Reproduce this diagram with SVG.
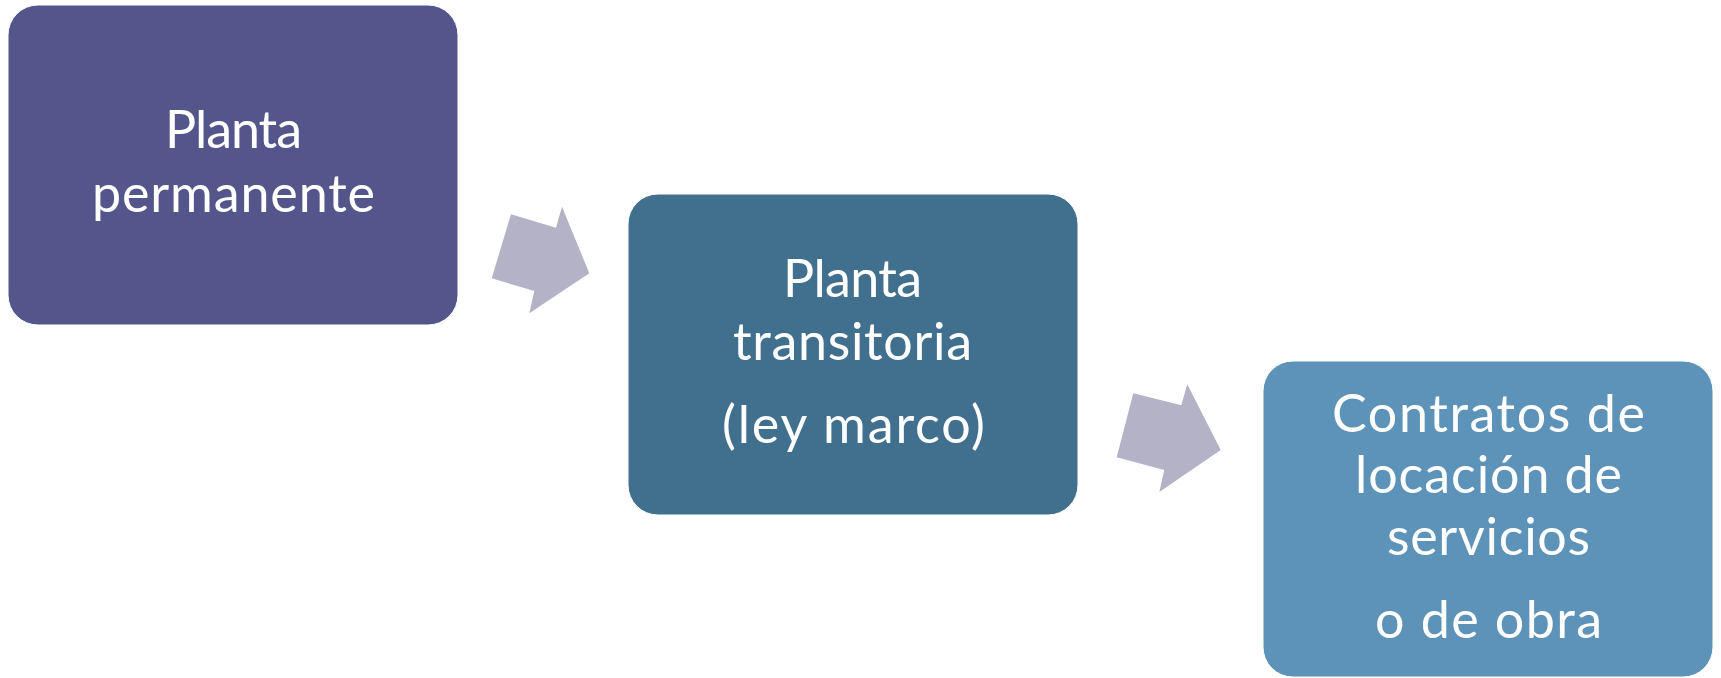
<svg xmlns="http://www.w3.org/2000/svg" width="1721" height="678" viewBox="0 0 1721 678">
<style>
.box{stroke:#ffffff;stroke-width:1}
.arrow{fill:#b3b2c6}
.t{font-family:"Lato","Open Sans",sans-serif;font-size:52px;fill:#ffffff;text-anchor:middle}
</style>
<rect width="1721" height="678" fill="#ffffff"/>
<g id="connectors">
<polygon class="arrow" points="511,214.3 556,227.7 562,206.7 589.3,273.3 529.3,313.3 534.3,291 491.7,278.3"/>
<polygon class="arrow" points="1133.3,393.3 1181.3,405.3 1187.3,384.3 1220.7,450 1159.3,492 1164.3,470 1116.7,457.3"/>
</g>
<g id="node-planta-permanente">
<rect class="box" x="8" y="5" width="450" height="320" rx="30" fill="#54558a"/>
<text class="t" x="233.5" y="148" textLength="137" lengthAdjust="spacing">Planta</text>
<text class="t" x="233.5" y="212" textLength="283" lengthAdjust="spacing">permanente</text>
</g>
<g id="node-planta-transitoria">
<rect class="box" x="628" y="194" width="450" height="321" rx="30" fill="#41708f"/>
<text class="t" x="852.5" y="297" textLength="139" lengthAdjust="spacing">Planta</text>
<text class="t" x="852.5" y="360" textLength="239" lengthAdjust="spacing">transitoria</text>
<text class="t" x="853.5" y="443" textLength="263" lengthAdjust="spacing">(ley marco)</text>
</g>
<g id="node-contratos">
<rect class="box" x="1263" y="361" width="450" height="316" rx="30" fill="#5d93b8"/>
<text class="t" x="1488.5" y="432" textLength="313" lengthAdjust="spacing">Contratos de</text>
<text class="t" x="1488.5" y="493" textLength="267" lengthAdjust="spacing">locación de</text>
<text class="t" x="1488.5" y="555" textLength="203" lengthAdjust="spacing">servicios</text>
<text class="t" x="1488.5" y="638" textLength="227" lengthAdjust="spacing">o de obra</text>
</g>
</svg>
